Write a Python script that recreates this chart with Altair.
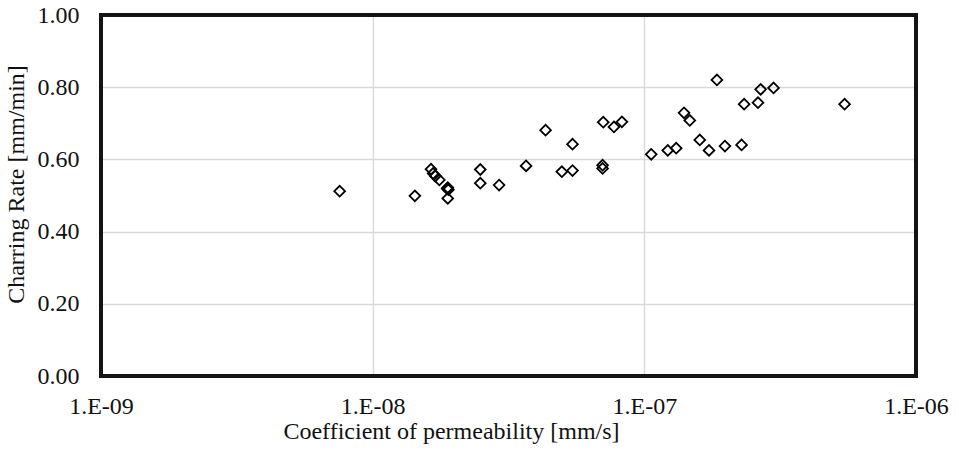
import altair as alt
import pandas as pd

permeability = [7.56e-9, 1.43e-8, 1.64e-8, 1.67e-8, 1.70e-8, 1.76e-8, 1.89e-8, 1.90e-8,
                 1.88e-8, 1.89e-8, 2.49e-8, 2.49e-8, 2.92e-8, 3.67e-8, 4.33e-8, 4.97e-8,
                 5.44e-8, 5.44e-8, 7.02e-8, 7.02e-8, 7.06e-8, 7.73e-8, 8.27e-8, 1.06e-7,
                 1.22e-7, 1.31e-7, 1.40e-7, 1.47e-7, 1.60e-7, 1.73e-7, 1.85e-7, 1.98e-7,
                 2.28e-7, 2.33e-7, 2.62e-7, 2.68e-7, 2.99e-7, 5.46e-7]
charring = [0.512, 0.499, 0.573, 0.561, 0.554, 0.543, 0.522, 0.516,
            0.519, 0.492, 0.572, 0.534, 0.529, 0.582, 0.681, 0.566,
            0.569, 0.642, 0.584, 0.575, 0.703, 0.690, 0.704, 0.614,
            0.625, 0.631, 0.729, 0.708, 0.654, 0.625, 0.820, 0.637,
            0.640, 0.753, 0.757, 0.794, 0.798, 0.753]

x_ticks = [1e-9, 1e-8, 1e-7, 1e-6]
y_ticks = [0.0, 0.2, 0.4, 0.6, 0.8, 1.0]

df = pd.DataFrame({"k": permeability, "rate": charring})

FONT = "Liberation Serif"
W, H = 815, 361

points = alt.Chart(df).mark_point(
    shape="diamond", filled=False, stroke="black", strokeWidth=1.8, size=115, opacity=1
).encode(
    x=alt.X("k:Q", scale=alt.Scale(type="log", domain=[1e-9, 1e-6], nice=False),
            axis=alt.Axis(values=x_ticks, title="Coefficient of permeability [mm/s]",
                          labelExpr="'1.E-0' + (-round(log(datum.value)/LN10))",
                          ticks=False, tickSize=0, domain=False, labelPadding=18,
                          titlePadding=1, titleX=350, labelFlush=False, labelOverlap=False,
                          gridColor="#d9d9d9", gridWidth=1.4)),
    y=alt.Y("rate:Q", scale=alt.Scale(domain=[0, 1], nice=False),
            axis=alt.Axis(values=y_ticks, format=".2f", title="Charring Rate [mm/min]",
                          ticks=False, tickSize=0, domain=False, labelPadding=22,
                          titlePadding=9, titleY=169, labelOverlap=False,
                          gridColor="#d9d9d9", gridWidth=1.4)),
)

frame = alt.Chart(pd.DataFrame({"f": [0]})).mark_rect(
    filled=False, stroke="#141414", strokeWidth=4
).encode(
    x=alt.value(0), x2=alt.value(W), y=alt.value(0), y2=alt.value(H)
)

chart = alt.layer(points, frame).properties(
    width=W, height=H,
    background="white",
    autosize=alt.AutoSizeParams(type="none"),
    padding={"left": 101, "top": 15, "right": 43, "bottom": 80},
).configure_view(
    strokeWidth=0
).configure_axis(
    labelFont=FONT, titleFont=FONT, labelFontSize=24, titleFontSize=24,
    labelColor="#111111", titleColor="#111111", titleFontWeight="normal"
)

chart.save("out.html", embed_options={"renderer": "svg", "actions": False})
